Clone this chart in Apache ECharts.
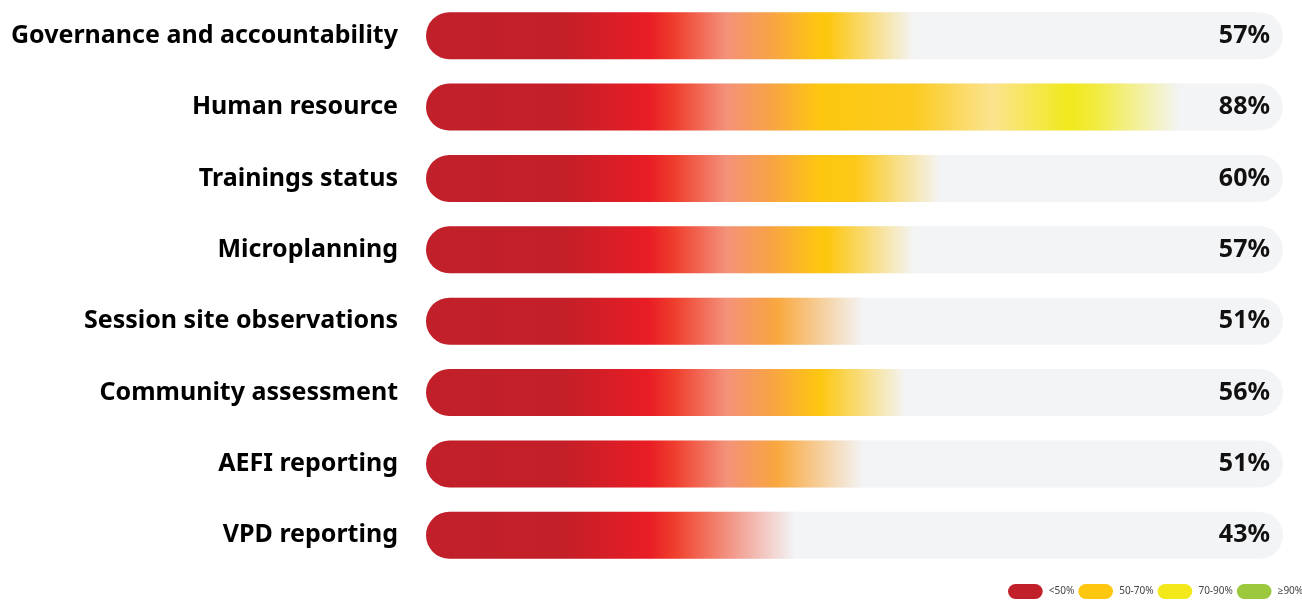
<!DOCTYPE html>
<html>
<head>
<meta charset="utf-8">
<style>
  html, body { margin: 0; padding: 0; background: #ffffff; }
  #chart { width: 1302px; height: 600px; }
</style>
<script src="https://cdn.jsdelivr.net/npm/echarts@6/dist/echarts.min.js"></script>
</head>
<body>
<div id="chart"></div>
<script>
// Indicator names (top to bottom) and their scores in percent
const categories = [
  'Governance and accountability',
  'Human resource',
  'Trainings status',
  'Microplanning',
  'Session site observations',
  'Community assessment',
  'AEFI reporting',
  'VPD reporting'
];
const scores = [57, 88, 60, 57, 51, 56, 51, 43];

// Score bands shown in the legend
const bandNames = ['<50%', '50-70%', '70-90%', '\u226590%'];
const bandColors = ['#c1202a', '#fdc70f', '#f2e81a', '#9bc83c'];

const TRACK = '#f3f4f6';
const FADE = 10; // length (in %) of the fade at the end of each bar

// Colour ramp along the 0-100 % scale
const ramp = [
  [0, '#c1202a'], [16, '#c31f28'], [26, '#e91d25'], [29, '#ef3e2d'],
  [35, '#f3917a'], [40, '#f8a247'], [46, '#fdc70f'], [57, '#fccb22'],
  [66, '#fbe38f'], [75, '#f1e91c'], [84, '#f5ee80'], [100, '#f7f3c0']
];

function hexToRgb(h) {
  return [parseInt(h.slice(1, 3), 16), parseInt(h.slice(3, 5), 16), parseInt(h.slice(5, 7), 16)];
}
function mix(a, b, t) {
  const A = hexToRgb(a), B = hexToRgb(b);
  return 'rgb(' + A.map((c, i) => Math.round(c + (B[i] - c) * t)).join(',') + ')';
}
function rampAt(p) {
  for (let i = 1; i < ramp.length; i++) {
    if (p <= ramp[i][0]) {
      const [p0, c0] = ramp[i - 1], [p1, c1] = ramp[i];
      return mix(c0, c1, (p - p0) / (p1 - p0));
    }
  }
  return ramp[ramp.length - 1][1];
}
function barGradient(v) {
  const fadeStart = v - FADE;
  const stops = [];
  ramp.forEach(([p, c]) => {
    if (p < fadeStart) stops.push({ offset: p / v, color: c });
  });
  stops.push({ offset: fadeStart / v, color: rampAt(fadeStart) });
  stops.push({ offset: 1, color: TRACK });
  return new echarts.graphic.LinearGradient(0, 0, 1, 0, stops);
}

const chart = echarts.init(document.getElementById('chart'), null, { renderer: 'canvas' });

const FONT = "'Noto Sans', 'Open Sans', sans-serif";
const pill = 'path://M8,0 L29,0 A8,8 0 0 1 29,16 L8,16 A8,8 0 0 1 8,0 Z';

const option = {
  animation: false,
  backgroundColor: '#ffffff',
  grid: { left: 426, right: 19, top: 0, bottom: 29 },
  legend: {
    left: 1008,
    bottom: 1,
    padding: 0,
    width: 400,
    itemWidth: 37,
    itemHeight: 15,
    itemGap: 4,
    icon: pill,
    textStyle: { fontFamily: FONT, fontSize: 10, color: '#444', padding: [6, 0, 0, 0] },
    data: bandNames
  },
  xAxis: { type: 'value', min: 0, max: 100, show: false },
  yAxis: {
    type: 'category',
    inverse: true,
    data: categories,
    axisLine: { show: false },
    axisTick: { show: false },
    axisLabel: {
      margin: 28,
      fontFamily: FONT,
      fontSize: 25,
      fontWeight: 'bold',
      color: '#000'
    }
  },
  series: [
    {
      name: 'track',
      type: 'bar',
      barWidth: 47,
      barGap: '-100%',
      silent: true,
      data: categories.map(() => 100),
      itemStyle: { color: TRACK, borderRadius: 24 },
      label: {
        show: true,
        position: 'insideRight',
        distance: 13,
        formatter: (p) => scores[p.dataIndex] + '%',
        fontFamily: FONT,
        fontSize: 25,
        fontWeight: 'bold',
        color: '#111'
      },
      z: 1
    },
    {
      name: 'score',
      type: 'bar',
      barWidth: 47,
      barGap: '-100%',
      data: scores.map((v) => ({
        value: v,
        itemStyle: { color: barGradient(v), borderRadius: [24, 0, 0, 24] }
      })),
      z: 2
    }
  ].concat(bandNames.map((n, i) => ({
    name: n,
    type: 'scatter',
    data: [],
    itemStyle: { color: bandColors[i], opacity: 1 }
  })))
};

chart.setOption(option);
</script>
</body>
</html>
